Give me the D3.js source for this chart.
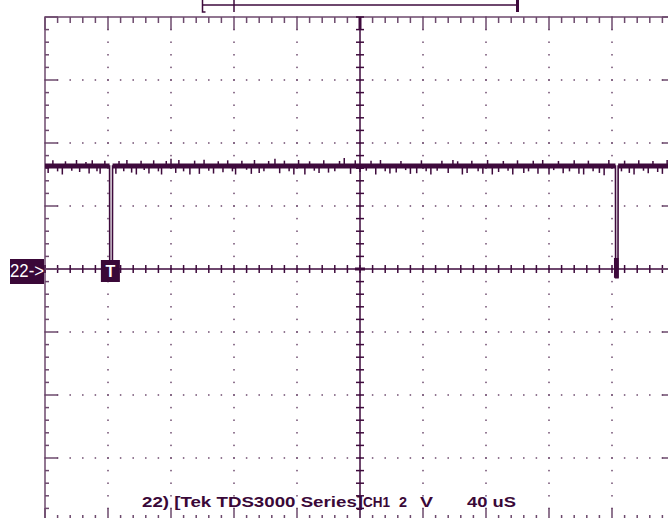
<!DOCTYPE html>
<html>
<head>
<meta charset="utf-8">
<script src="https://cdn.jsdelivr.net/npm/d3@7"></script>
<style>
  body { margin: 0; background: #fff; }
  svg { display: block; }
  text { font-family: "Liberation Sans", Arial, sans-serif; }
</style>
</head>
<body>
<div id="chart"></div>
<script>
// screen: 10 horizontal divisions (40 uS each), 8 vertical divisions (2 V each)
const timeDomain = [0, 400];
const voltDomain = [-8, 8];
const timePerDiv = 40;
const voltPerDiv = 2;
const minorPerDiv = 5;

// CH1 trace: high level with two short low pulses
const traceTimes = [0, 41.0, 41.1, 42.8, 42.9, 362.2, 362.3, 363.8, 363.9, 400];
const traceVolts = [3.27, 3.27, 0.0, 0.0, 3.27, 3.27, -0.28, -0.28, 3.27, 3.27];

// noise spikes on the high level (time uS, volts)
const spikeTimes = [2, 5, 8, 11, 13, 17, 20, 22, 26, 28, 30, 33, 35, 38, 45, 47, 50, 52, 55, 58, 61, 63, 66, 69,
  72, 74, 77, 80, 83, 85, 88, 92, 95, 98, 101, 104, 107, 110, 113, 116, 119, 121, 125, 128, 131, 133,
  136, 139, 142, 146, 149, 152, 155, 158, 161, 165, 168, 171, 174, 177, 180, 184, 187, 190, 194, 197,
  200, 204, 207, 210, 213, 216, 219, 223, 226, 229, 232, 236, 239, 242, 245, 249, 252, 256, 259, 262,
  265, 268, 271, 275, 278, 281, 284, 288, 291, 294, 297, 300, 304, 307, 310, 313, 316, 320, 323, 326,
  329, 333, 336, 339, 342, 345, 348, 352, 355, 358, 366, 368, 371, 374, 377, 380, 383, 386, 389, 392,
  395, 397];
const spikeVolts = [3.05, 3.45, 3.1, 3.0, 3.42, 3.12, 3.46, 3.08, 3.4, 3.03, 3.45, 3.1, 3.02, 3.44,
  3.02, 3.43, 3.1, 3.46, 3.06, 3.0, 3.44, 3.14, 3.03, 3.45, 3.1, 3.0, 3.43, 3.5, 3.05, 3.46,
  3.1, 3.0, 3.44, 3.02, 3.47, 3.12, 3.03, 3.42, 3.07, 3.45, 3.1, 3.0, 3.44, 3.15, 3.02, 3.46,
  3.05, 3.1, 3.43, 3.5, 3.04, 3.44, 3.1, 3.0, 3.46, 3.0, 3.42, 3.12, 3.05, 3.45, 3.06, 3.1,
  3.43, 3.52, 3.02, 3.45, 3.08, 3.12, 3.44, 3.0, 3.46, 3.1, 3.03, 3.06, 3.43, 3.14, 3.02, 3.04,
  3.45, 3.1, 3.0, 3.12, 3.44, 3.05, 3.46, 3.42, 3.0, 3.05, 3.44, 3.1, 3.02, 3.46, 3.0, 3.08,
  3.43, 3.12, 3.0, 3.45, 3.05, 3.1, 3.44, 3.02, 3.46, 3.0, 3.14, 3.43, 3.04, 3.1, 3.45, 3.02,
  3.0, 3.44, 3.1, 3.05, 2.98, 3.46, 3.1, 3.44, 3.05, 3.0, 3.45, 3.12, 3.04, 3.43, 3.08, 3.02,
  3.46, 3.1];

// record window bar at the top (uS)
const windowStart = 100;
const windowMark = 120;
const windowEnd = 300;

const triggerTime = 41.2;
const refLabel = "22->";
const footerTexts = ["22) [Tek TDS3000 Series]", "CH1", "2", "V", "40 uS"];
const footerX = [142, 363, 399, 420, 467];
const footerW = [221, 27, 8, 13, 49];

const W = 668, H = 518;
const gridColor = "#6d4a6d";
const traceColor = "#3e0a3c";

const x = d3.scaleLinear().domain(timeDomain).range([45, 675]);
const y = d3.scaleLinear().domain(voltDomain).range([521, 17]);

const svg = d3.select("#chart").append("svg")
  .attr("width", W)
  .attr("height", H);

const grid = svg.append("g");

// minor positions
const tMinor = d3.range(timeDomain[0], timeDomain[1] + 0.01, timePerDiv / minorPerDiv);
const vMinor = d3.range(voltDomain[0], voltDomain[1] + 0.01, voltPerDiv / minorPerDiv);
const tMajor = d3.range(timeDomain[0], timeDomain[1] + 0.01, timePerDiv);
const vMajor = d3.range(voltDomain[0], voltDomain[1] + 0.01, voltPerDiv);
const tMid = (timeDomain[0] + timeDomain[1]) / 2;

// dotted major lines
tMajor.filter(t => t > timeDomain[0] && t < timeDomain[1] && t !== tMid).forEach(t => {
  grid.selectAll(null).data(vMinor).join("rect")
    .attr("x", x(t) - 0.75).attr("y", d => y(d) - 0.75)
    .attr("width", 1.5).attr("height", 1.5)
    .attr("fill", gridColor);
});
vMajor.filter(v => v > voltDomain[0] && v < voltDomain[1] && v !== 0).forEach(v => {
  grid.selectAll(null).data(tMinor).join("rect")
    .attr("x", d => x(d) - 0.75).attr("y", y(v) - 0.75)
    .attr("width", 1.5).attr("height", 1.5)
    .attr("fill", gridColor);
});

const yTop = y(voltDomain[1]), yBot = y(voltDomain[0]);
const xLeft = x(timeDomain[0]), xRight = x(timeDomain[1]);

// border
grid.append("rect")
  .attr("x", xLeft).attr("y", yTop)
  .attr("width", xRight - xLeft)
  .attr("height", yBot - yTop)
  .attr("fill", "none").attr("stroke", gridColor).attr("stroke-width", 1.5);

// center axes
grid.append("line")
  .attr("x1", x(tMid)).attr("x2", x(tMid))
  .attr("y1", yTop).attr("y2", yBot)
  .attr("stroke", traceColor).attr("stroke-width", 1.5);
grid.append("line")
  .attr("x1", xLeft).attr("x2", xRight)
  .attr("y1", y(0)).attr("y2", y(0))
  .attr("stroke", traceColor).attr("stroke-width", 1.5);

const isMajorT = t => Math.abs(t / timePerDiv - Math.round(t / timePerDiv)) < 1e-6;
const isMajorV = v => Math.abs(v / voltPerDiv - Math.round(v / voltPerDiv)) < 1e-6;

// ticks on center axes
grid.selectAll(null).data(tMinor).join("line")
  .attr("x1", d => x(d)).attr("x2", d => x(d))
  .attr("y1", y(0) - 4).attr("y2", y(0) + 4)
  .attr("stroke", traceColor).attr("stroke-width", 1.5);
grid.selectAll(null).data(vMinor).join("line")
  .attr("x1", x(tMid) - 4).attr("x2", x(tMid) + 4)
  .attr("y1", d => y(d)).attr("y2", d => y(d))
  .attr("stroke", traceColor).attr("stroke-width", 1.5);

// ticks on the border
grid.selectAll(null).data(tMinor).join("line")
  .attr("x1", d => x(d)).attr("x2", d => x(d))
  .attr("y1", yTop).attr("y2", d => yTop + (isMajorT(d) ? 13 : 6))
  .attr("stroke", gridColor).attr("stroke-width", 1.5);
grid.selectAll(null).data(tMinor).join("line")
  .attr("x1", d => x(d)).attr("x2", d => x(d))
  .attr("y1", yBot).attr("y2", d => yBot - (isMajorT(d) ? 13 : 6))
  .attr("stroke", gridColor).attr("stroke-width", 1.5);
grid.selectAll(null).data(vMinor).join("line")
  .attr("x1", xLeft).attr("x2", d => xLeft + (isMajorV(d) ? 13 : 4))
  .attr("y1", d => y(d)).attr("y2", d => y(d))
  .attr("stroke", gridColor).attr("stroke-width", 1.5);
grid.selectAll(null).data(vMinor).join("line")
  .attr("x1", xRight).attr("x2", d => xRight - (isMajorV(d) ? 13 : 4))
  .attr("y1", d => y(d)).attr("y2", d => y(d))
  .attr("stroke", gridColor).attr("stroke-width", 1.5);

// thick center marks
grid.append("line")
  .attr("x1", x(tMid)).attr("x2", x(tMid))
  .attr("y1", yTop).attr("y2", yTop + 13)
  .attr("stroke", traceColor).attr("stroke-width", 3);
grid.append("line")
  .attr("x1", x(tMid) - 5).attr("x2", x(tMid) + 5)
  .attr("y1", y(0)).attr("y2", y(0))
  .attr("stroke", traceColor).attr("stroke-width", 3);

// record window bar
const bar = svg.append("g").attr("stroke", traceColor).attr("fill", "none");
bar.append("line").attr("x1", x(windowStart)).attr("x2", x(windowEnd)).attr("y1", 5).attr("y2", 5).attr("stroke-width", 1.5);
bar.append("path").attr("d", `M${x(windowStart) + 3},12H${x(windowStart)}V0`).attr("stroke-width", 1.5);
bar.append("line").attr("x1", x(windowMark)).attr("x2", x(windowMark)).attr("y1", 0).attr("y2", 12).attr("stroke-width", 1.5);
bar.append("line").attr("x1", x(windowEnd)).attr("x2", x(windowEnd)).attr("y1", 0).attr("y2", 12).attr("stroke-width", 3);

// trace
const trace = svg.append("g");
const pts = traceTimes.map((t, i) => [t, traceVolts[i]]);
const line = d3.line().x(d => x(d[0])).y(d => y(d[1]));
trace.append("path")
  .attr("d", line(pts))
  .attr("fill", "none").attr("stroke", traceColor).attr("stroke-width", 1.6);
// thicker bottom of the second pulse
trace.append("rect")
  .attr("x", x(traceTimes[5]) - 1.5).attr("y", y(0.35))
  .attr("width", x(traceTimes[8]) - x(traceTimes[5]) + 2)
  .attr("height", y(traceVolts[6]) - y(0.35))
  .attr("fill", traceColor);

// noise band on the high level
const highSegs = [[timeDomain[0], traceTimes[1]], [traceTimes[4], traceTimes[5]], [traceTimes[8], timeDomain[1]]];
trace.selectAll(null).data(highSegs).join("line")
  .attr("x1", d => x(d[0])).attr("x2", d => x(d[1]))
  .attr("y1", y(traceVolts[0])).attr("y2", y(traceVolts[0]))
  .attr("stroke", traceColor).attr("stroke-width", 5);
trace.selectAll(null).data(spikeTimes).join("line")
  .attr("x1", d => x(d)).attr("x2", d => x(d))
  .attr("y1", y(traceVolts[0]))
  .attr("y2", (d, i) => y(spikeVolts[i]))
  .attr("stroke", traceColor).attr("stroke-width", 1.5);

// reference marker
const ref = svg.append("g");
ref.append("rect").attr("x", 10).attr("y", y(0) - 10).attr("width", 34).attr("height", 25).attr("fill", "#3a0838");
ref.append("text").attr("x", 10).attr("y", y(0) + 8)
  .attr("fill", "#fff").attr("font-size", 18)
  .attr("textLength", 34).attr("lengthAdjust", "spacingAndGlyphs")
  .text(refLabel);

// trigger marker
ref.append("rect").attr("x", x(triggerTime) - 9).attr("y", y(0) - 9).attr("width", 19).attr("height", 22).attr("fill", "#3a0838");
ref.append("text").attr("x", x(triggerTime) + 0.5).attr("y", y(0) + 8)
  .attr("text-anchor", "middle").attr("fill", "#fff")
  .attr("font-size", 16).attr("font-weight", "bold").text("T");

// footer text
svg.append("g").selectAll("text").data(footerTexts).join("text")
  .attr("x", (d, i) => footerX[i]).attr("y", 507)
  .attr("font-size", 15).attr("font-weight", "bold")
  .attr("fill", "#3a0838")
  .attr("textLength", (d, i) => footerW[i])
  .attr("lengthAdjust", "spacingAndGlyphs")
  .text(d => d);
</script>
</body>
</html>
